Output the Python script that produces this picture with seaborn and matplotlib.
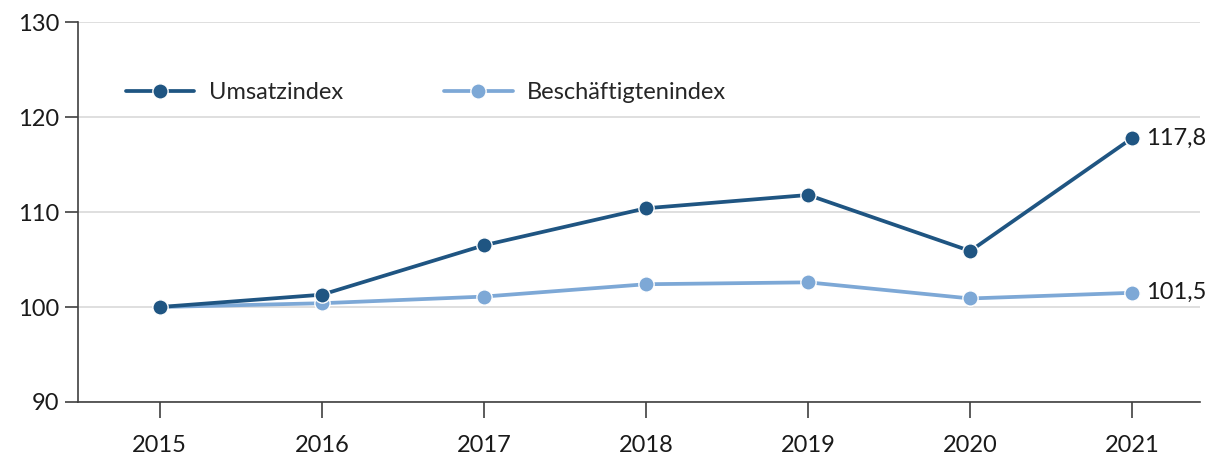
import matplotlib.pyplot as plt
import pandas as pd
import seaborn as sns

years = [2015, 2016, 2017, 2018, 2019, 2020, 2021]
umsatz = [100.0, 101.3, 106.5, 110.4, 111.8, 105.9, 117.8]
beschaeftigte = [100.0, 100.4, 101.1, 102.4, 102.6, 100.9, 101.5]
series_names = ["Umsatzindex", "Beschäftigtenindex"]
end_labels = ["117,8", "101,5"]
colors = ["#1f5582", "#7da8d6"]

df = pd.concat(
    [
        pd.DataFrame({"Jahr": years, "Index": umsatz, "Reihe": series_names[0]}),
        pd.DataFrame({"Jahr": years, "Index": beschaeftigte, "Reihe": series_names[1]}),
    ]
)

sns.set_style("white")
plt.rcParams["font.family"] = ["Lato", "DejaVu Sans"]

fig = plt.figure(figsize=(12.15, 4.61), dpi=100)
ax = fig.add_axes([0.064, 0.128, 0.924, 0.824])

sns.lineplot(
    data=df,
    x="Jahr",
    y="Index",
    hue="Reihe",
    hue_order=series_names,
    palette=colors,
    marker="o",
    markersize=11,
    markeredgecolor="white",
    markeredgewidth=1,
    linewidth=2.7,
    ax=ax,
)
# Umsatz über Beschäftigten zeichnen
ax.lines[0].set_zorder(3)
ax.lines[1].set_zorder(2.5)

ax.set_ylim(90, 130)
ax.set_yticks([90, 100, 110, 120, 130])
ax.set_xlim(2014.494, 2021.42)
ax.set_xticks(years)
ax.set_xlabel("")
ax.set_ylabel("")
ax.yaxis.grid(True, color="#d9d9d9", linewidth=1.2)
ax.set_axisbelow(True)

for s in ["top", "right"]:
    ax.spines[s].set_visible(False)
for s in ["left", "bottom"]:
    ax.spines[s].set_color("#404040")
    ax.spines[s].set_linewidth(1.2)

ax.tick_params(axis="y", which="major", direction="out", length=9.5, width=1.2,
               color="#404040", labelsize=17, pad=4, labelcolor="#1a1a1a")
ax.tick_params(axis="x", which="major", direction="out", length=11.5, width=1.2,
               color="#404040", labelsize=17, pad=12, labelcolor="#1a1a1a")
ax.tick_params(axis="y", left=True)
ax.tick_params(axis="x", bottom=True)

for vals, lab in zip([umsatz, beschaeftigte], end_labels):
    ax.annotate(lab, xy=(years[-1], vals[-1]), xytext=(10, 0), textcoords="offset points",
                va="center", ha="left", fontsize=17, color="#1a1a1a")

leg = ax.legend(
    loc="center left",
    bbox_to_anchor=(0.024, 0.815),
    ncol=2,
    frameon=False,
    fontsize=17,
    handlelength=2.9,
    columnspacing=4.3,
    handletextpad=0.6,
)

fig.savefig("out.png", dpi=100)
